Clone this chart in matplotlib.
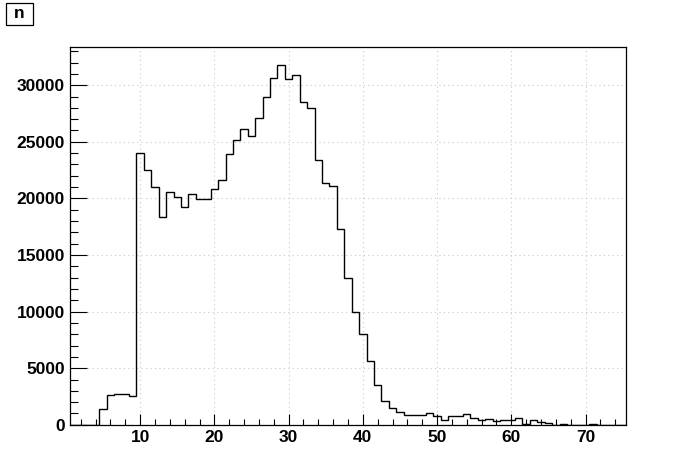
"""Step histogram of n, drawn in the old ROOT canvas style."""

import matplotlib
matplotlib.use('Agg')
import matplotlib.pyplot as plt
import numpy as np
from matplotlib.patches import Rectangle
from matplotlib.ticker import MultipleLocator

# Bin edges: 75 bins of width 1 from 0.5 to 75.5
edge_lo = 0.5
edge_hi = 75.5

# Counts per bin, bins 1..75
counts = [
    0, 0, 0, 0, 1390, 2660, 2750, 2720, 2540, 23980,           # 1-10
    22470, 21000, 18340, 20610, 20110, 19220, 20350, 19930, 19930, 20790,  # 11-20
    21590, 23890, 25160, 26100, 25480, 27080, 28940, 30620, 31770, 30590,  # 21-30
    30890, 28500, 27970, 23390, 21320, 21080, 17330, 12990, 9990, 8040,    # 31-40
    5660, 3530, 2100, 1500, 1150, 880, 880, 880, 1060, 820,    # 41-50
    400, 820, 820, 950, 620, 414, 510, 330, 414, 414,          # 51-60
    592, 60, 444, 240, 180, 0, 60, 0, 0, 0,                    # 61-70
    60, 0, 0, 0, 0,                                            # 71-75
]

x_major = [10, 20, 30, 40, 50, 60, 70]
y_major = [0, 5000, 10000, 15000, 20000, 25000, 30000]

title = 'n'

plt.rcParams['font.family'] = ['Liberation Sans', 'DejaVu Sans']
plt.rcParams['font.weight'] = 'bold'

fig = plt.figure(figsize=(6.96, 4.72), dpi=100)
ax = fig.add_axes([0.1, 0.1, 0.8, 0.8])

edges = np.linspace(edge_lo, edge_hi, len(counts) + 1)
ax.stairs(counts, edges, color='black', linewidth=1.0, baseline=0)

ax.set_xlim(edge_lo, edge_hi)
ax.set_ylim(0, 1.05 * max(counts))

ax.set_xticks(x_major)
ax.set_yticks(y_major)
ax.xaxis.set_minor_locator(MultipleLocator(2))
ax.yaxis.set_minor_locator(MultipleLocator(1000))

# ROOT-ish ticks: inside, only on left and bottom
ax.tick_params(axis='x', which='major', direction='in', length=8, width=0.8,
               labelsize=12.5, pad=4, top=False)
ax.tick_params(axis='x', which='minor', direction='in', length=4, width=0.8,
               top=False)
ax.tick_params(axis='y', which='major', direction='in', length=12, width=0.8,
               labelsize=12.5, pad=3.3, right=False)
ax.tick_params(axis='y', which='minor', direction='in', length=6, width=0.8,
               right=False)
for lab in ax.get_xticklabels() + ax.get_yticklabels():
    lab.set_fontweight('bold')

ax.grid(True, which='major', color='#c8c8c8', linestyle=(0, (1, 3)),
        linewidth=0.8)
ax.set_axisbelow(True)

for sp in ax.spines.values():
    sp.set_linewidth(0.9)
    sp.set_color('black')

# Title box in the top-left corner
fig.patches.append(Rectangle((6 / 696, 1 - 25 / 472), 26.7 / 696, 22.3 / 472,
                             transform=fig.transFigure, facecolor='white',
                             edgecolor='black', linewidth=0.9))
fig.text(19.3 / 696, 1 - 14 / 472, title, ha='center', va='center',
         fontsize=12.5, fontweight='bold')

fig.savefig('out.png', dpi=100, facecolor='white')
